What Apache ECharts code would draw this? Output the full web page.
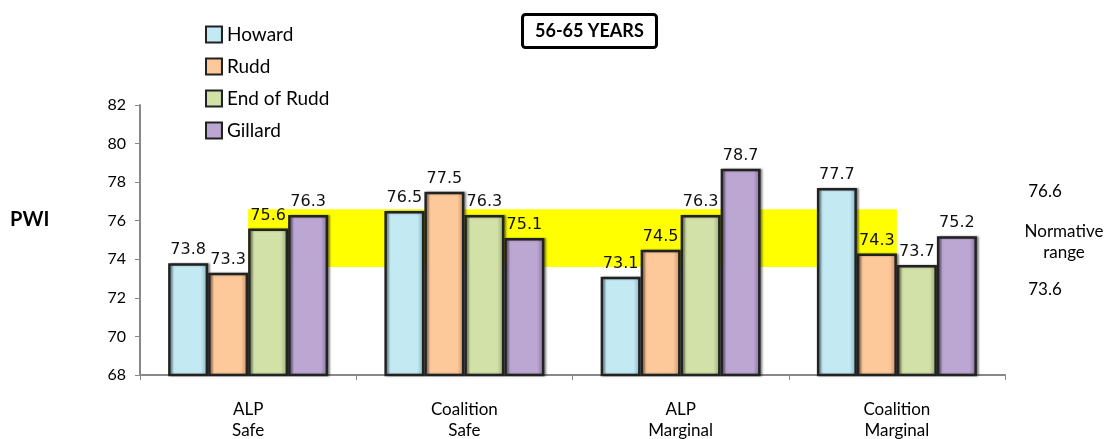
<!DOCTYPE html>
<html>
<head>
<meta charset="utf-8">
<script src="https://cdn.jsdelivr.net/npm/echarts@6/dist/echarts.min.js"></script>
<style>html,body{margin:0;padding:0;background:#fff}#c{width:1112px;height:439px}</style>
</head>
<body>
<div id="c"></div>
<script>
var categories = ['ALP\nSafe', 'Coalition\nSafe', 'ALP\nMarginal', 'Coalition\nMarginal'];
var seriesNames = ['Howard', 'Rudd', 'End of Rudd', 'Gillard'];
var howard = [73.8, 76.5, 73.1, 77.7];
var rudd = [73.3, 77.5, 74.5, 74.3];
var endOfRudd = [75.6, 76.3, 76.3, 73.7];
var gillard = [76.3, 75.1, 78.7, 75.2];
var normLow = 73.6;
var normHigh = 76.6;
var yTicks = [68, 70, 72, 74, 76, 78, 80, 82];

var baseColors = ['#c3e9f3', '#fdc89a', '#d1e1a8', '#bca7d2'];
var edgeColors = ['#7fb0bd', '#c08c62', '#93a46e', '#7f6d96'];
var values = [howard, rudd, endOfRudd, gillard];

function grad(i) {
  return new echarts.graphic.LinearGradient(0, 0, 1, 0, [
    {offset: 0, color: edgeColors[i]},
    {offset: 0.14, color: baseColors[i]},
    {offset: 0.82, color: baseColors[i]},
    {offset: 1, color: edgeColors[i]}
  ]);
}

var series = seriesNames.map(function (n, i) {
  return {
    name: n,
    type: 'bar',
    z: 3,
    barWidth: 40,
    barGap: '0%',
    data: values[i],
    itemStyle: {
      color: grad(i),
      borderColor: '#222',
      borderWidth: 2.5,
      shadowColor: 'rgba(0,0,0,0.35)',
      shadowBlur: 2,
      shadowOffsetX: 2
    },
    label: {
      show: true,
      position: 'top',
      distance: 5,
      color: '#111',
      fontFamily: 'DejaVu Sans',
      fontSize: 16,
      formatter: function (p) { return p.value.toFixed(1); }
    }
  };
});

series.unshift({
  name: 'band',
  type: 'line',
  z: 1,
  data: [],
  silent: true,
  markArea: {
    silent: true,
    itemStyle: {color: '#ffff00'},
    data: [[{xAxis: 0, yAxis: normLow}, {xAxis: 3, yAxis: normHigh}]]
  }
});

var chart = echarts.init(document.getElementById('c'));
chart.setOption({
  animation: false,
  backgroundColor: '#fff',
  title: {
    text: '56-65 YEARS',
    left: 522,
    top: 14,
    padding: [8, 13, 8, 13],
    borderColor: '#000',
    borderWidth: 3,
    borderRadius: 3,
    textStyle: {fontFamily: 'Lato', fontWeight: 'bold', fontSize: 18, color: '#000'}
  },
  legend: {
    data: seriesNames,
    orient: 'vertical',
    left: 200,
    top: 20,
    itemWidth: 16,
    itemHeight: 16,
    itemGap: 13,
    itemTextGap: 6,
    icon: 'rect',
    textStyle: {fontFamily: 'Lato', fontSize: 19, color: '#000'}
  },
  grid: {left: 140, right: 107, top: 105, bottom: 64, containLabel: false, outerBoundsMode: 'none'},
  xAxis: {
    type: 'category',
    data: categories,
    axisLine: {lineStyle: {color: '#888', width: 2}},
    axisTick: {show: true, length: 5, lineStyle: {color: '#888'}},
    axisLabel: {fontFamily: 'Lato', fontSize: 17, color: '#000', margin: 24, lineHeight: 21}
  },
  yAxis: {
    type: 'value',
    min: yTicks[0],
    max: yTicks[yTicks.length - 1],
    interval: 2,
    splitLine: {show: false},
    axisLine: {show: true, lineStyle: {color: '#888', width: 2}},
    axisTick: {show: true, length: 5, lineStyle: {color: '#888'}},
    axisLabel: {fontFamily: 'Lato', fontSize: 16, color: '#000', margin: 14}
  },
  graphic: [
    {type: 'text', x: 10, y: 220, style: {text: 'PWI', font: 'bold 20px Lato', fill: '#000', verticalAlign: 'middle'}},
    {type: 'text', x: 1045, y: 192, style: {text: String(normHigh), font: '17px Lato', fill: '#000', align: 'center', verticalAlign: 'middle'}},
    {type: 'text', x: 1064, y: 242, style: {text: 'Normative\nrange', font: '17px Lato', fill: '#000', align: 'center', verticalAlign: 'middle', lineHeight: 21}},
    {type: 'text', x: 1045, y: 290, style: {text: String(normLow), font: '17px Lato', fill: '#000', align: 'center', verticalAlign: 'middle'}}
  ],
  series: series
});
</script>
</body>
</html>
